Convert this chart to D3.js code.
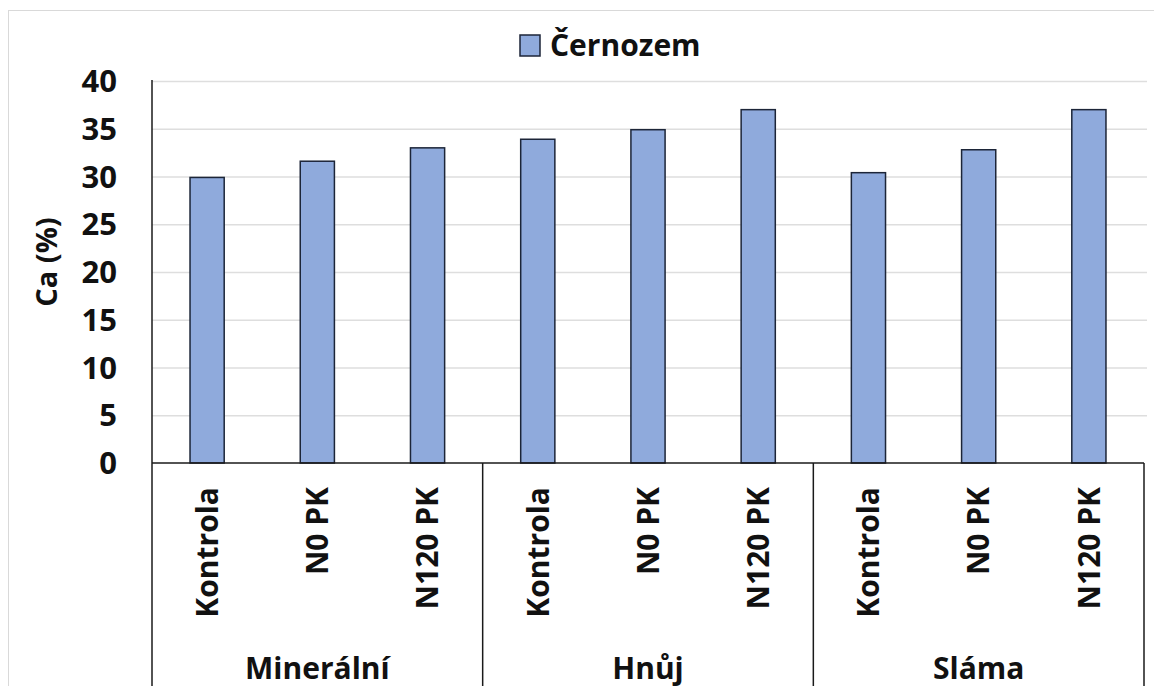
<!DOCTYPE html>
<html>
<head>
<meta charset="utf-8">
<script src="https://cdn.jsdelivr.net/npm/d3@7"></script>
<style>
  body { margin: 0; background: #fff; }
  text { font-family: "Open Sans", Lato, sans-serif; font-weight: bold; fill: #111; }
</style>
</head>
<body>
<div id="chart"></div>
<script>
// data
var groups = ["Minerální", "Hnůj", "Sláma"];
var treatments = ["Kontrola", "N0 PK", "N120 PK"];
var values = [29.9, 31.6, 33.0, 33.9, 34.9, 37.0, 30.4, 32.8, 37.0];
var yTicks = [0, 5, 10, 15, 20, 25, 30, 35, 40];
var seriesName = "Černozem";
var yTitle = "Ca (%)";

var width = 1154, height = 686;
var plotL = 152, plotR = 1144, plotT = 81, plotB = 463;

// one row per bar
var rows = [];
groups.forEach(function(g, gi) {
  treatments.forEach(function(t, ti) {
    rows.push({group: g, treat: t, key: g + "|" + t, value: values[gi * treatments.length + ti]});
  });
});

var svg = d3.select("#chart")
  .append("svg")
    .attr("width", width)
    .attr("height", height);

// outer chart border
svg.append("rect")
  .attr("x", 8.5).attr("y", 10.5)
  .attr("width", 1160).attr("height", 700)
  .attr("fill", "#fff")
  .attr("stroke", "#d9d9d9");

var x = d3.scaleBand()
  .domain(rows.map(function(d) { return d.key; }))
  .range([plotL, plotR]);

var xg = d3.scaleBand()
  .domain(groups)
  .range([plotL, plotR]);

var y = d3.scaleLinear()
  .domain([0, 40])
  .range([plotB, plotT]);

// gridlines
svg.append("g")
  .selectAll("line")
  .data(yTicks.filter(function(t) { return t > 0; }))
  .enter()
  .append("line")
    .attr("x1", plotL).attr("x2", plotR + 3)
    .attr("y1", function(d) { return y(d) + 0.5; })
    .attr("y2", function(d) { return y(d) + 0.5; })
    .attr("stroke", "#dedede")
    .attr("stroke-width", 1.5);

// y tick labels
svg.append("g")
  .selectAll("text")
  .data(yTicks)
  .enter()
  .append("text")
    .attr("x", 117)
    .attr("y", function(d) { return y(d); })
    .attr("dy", "0.36em")
    .attr("text-anchor", "end")
    .attr("font-size", 31)
    .text(function(d) { return d; });

// y title
svg.append("text")
  .attr("transform", "translate(57,262) rotate(-90)")
  .attr("text-anchor", "middle")
  .attr("font-size", 29)
  .text(yTitle);

// bars
var barW = x.bandwidth() * 0.31;
svg.append("g")
  .selectAll("rect")
  .data(rows)
  .enter()
  .append("rect")
    .attr("x", function(d) { return x(d.key) + (x.bandwidth() - barW) / 2; })
    .attr("y", function(d) { return y(d.value); })
    .attr("width", barW)
    .attr("height", function(d) { return y(0) - y(d.value); })
    .attr("fill", "#8faadc")
    .attr("stroke", "#1c2538")
    .attr("stroke-width", 1.5);

// axis lines
var axis = svg.append("g")
  .attr("stroke", "#1a1a1a")
  .attr("stroke-width", 1.5);

axis.append("line")
  .attr("x1", plotL).attr("x2", plotL)
  .attr("y1", plotT - 1).attr("y2", height);

axis.append("line")
  .attr("x1", plotL).attr("x2", plotR)
  .attr("y1", plotB).attr("y2", plotB);

axis.selectAll("line.sep")
  .data(groups)
  .enter()
  .append("line")
    .attr("class", "sep")
    .attr("x1", function(d) { return xg(d) + xg.bandwidth(); })
    .attr("x2", function(d) { return xg(d) + xg.bandwidth(); })
    .attr("y1", plotB).attr("y2", height);

// category labels (rotated)
svg.append("g")
  .selectAll("text")
  .data(rows)
  .enter()
  .append("text")
    .attr("transform", function(d) {
      return "translate(" + (x(d.key) + x.bandwidth() / 2) + ",487) rotate(-90)";
    })
    .attr("dy", "0.36em")
    .attr("text-anchor", "end")
    .attr("font-size", 30)
    .text(function(d) { return d.treat; });

// group labels
svg.append("g")
  .selectAll("text")
  .data(groups)
  .enter()
  .append("text")
    .attr("x", function(d) { return xg(d) + xg.bandwidth() / 2; })
    .attr("y", 679)
    .attr("text-anchor", "middle")
    .attr("font-size", 30)
    .text(function(d) { return d; });

// legend
svg.append("rect")
  .attr("x", 520).attr("y", 35)
  .attr("width", 20).attr("height", 21)
  .attr("fill", "#8faadc")
  .attr("stroke", "#1c2538")
  .attr("stroke-width", 1.5);

svg.append("text")
  .attr("x", 550)
  .attr("y", 56)
  .attr("font-size", 30)
  .text(seriesName);
</script>
</body>
</html>
